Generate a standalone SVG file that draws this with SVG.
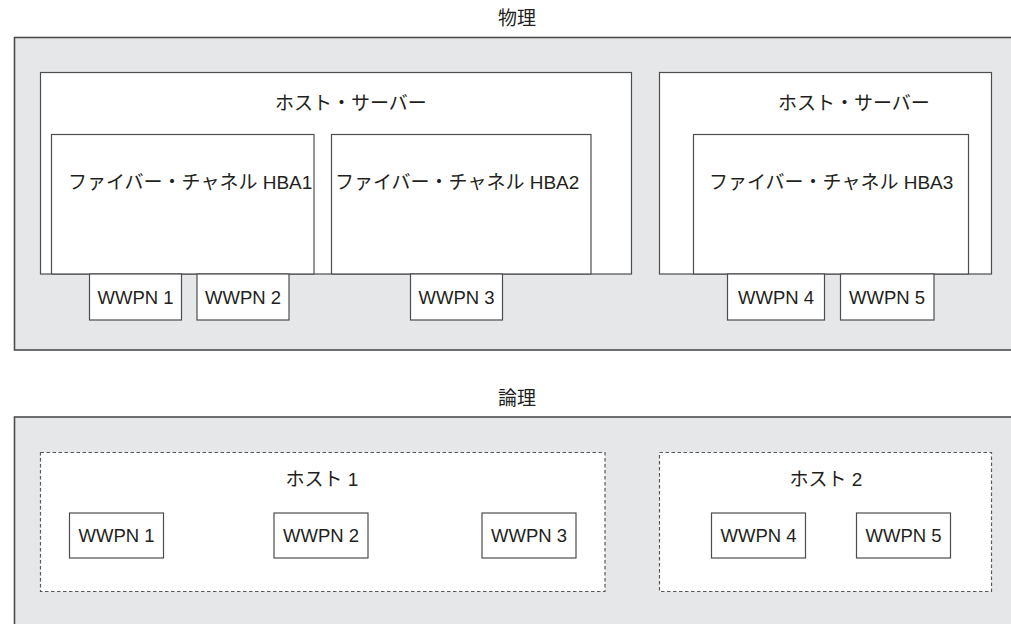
<svg xmlns="http://www.w3.org/2000/svg" width="1011" height="624" viewBox="0 0 1011 624">
<style>
  text { font-family: "Liberation Sans", "Noto Sans CJK JP", sans-serif; fill: #231f20; }
  .cjk { font-size: 19px; }
  .wl { font-size: 18.5px; text-anchor: middle; }
  .ttl { font-size: 19px; text-anchor: middle; }
  .outer { fill: #e6e7e8; stroke: #4d4d4f; stroke-width: 1.6; }
  .box { fill: #ffffff; stroke: #4d4d4f; stroke-width: 1.2; }
  .dash { fill: #ffffff; stroke: #58595b; stroke-width: 1.2; stroke-dasharray: 3.5 2.5; }
</style>

<g id="physical">
  <text class="ttl" x="517" y="25">物理</text>
  <rect class="outer" x="14.5" y="37.5" width="1010" height="312.5"/>
</g>

<g id="host-server-1">
  <rect class="box" x="40.5" y="72.5" width="591" height="201.5"/>
  <text class="cjk" x="275" y="110">ホスト・サーバー</text>
</g>
<g id="hba1">
  <rect class="box" x="51.5" y="134.5" width="262.5" height="139.5"/>
  <text class="cjk" x="68" y="189">ファイバー・チャネル HBA1</text>
</g>
<g id="hba2">
  <rect class="box" x="331.5" y="134.5" width="259.5" height="139.5"/>
  <text class="cjk" x="335" y="189">ファイバー・チャネル HBA2</text>
</g>
<g id="p-wwpn1">
  <rect class="box" x="89.5" y="274" width="92" height="46"/>
  <text class="wl" x="135.5" y="303.5">WWPN 1</text>
</g>
<g id="p-wwpn2">
  <rect class="box" x="197" y="274" width="92" height="46"/>
  <text class="wl" x="243" y="303.5">WWPN 2</text>
</g>
<g id="p-wwpn3">
  <rect class="box" x="410.5" y="274" width="92" height="46"/>
  <text class="wl" x="456.5" y="303.5">WWPN 3</text>
</g>

<g id="host-server-2">
  <rect class="box" x="659.5" y="72.5" width="332" height="201.5"/>
  <text class="cjk" x="778" y="110">ホスト・サーバー</text>
</g>
<g id="hba3">
  <rect class="box" x="693.5" y="134.5" width="275" height="139.5"/>
  <text class="cjk" x="709" y="189">ファイバー・チャネル HBA3</text>
</g>
<g id="p-wwpn4">
  <rect class="box" x="727.5" y="274" width="97" height="46"/>
  <text class="wl" x="776" y="303.5">WWPN 4</text>
</g>
<g id="p-wwpn5">
  <rect class="box" x="840.5" y="274" width="93.5" height="46"/>
  <text class="wl" x="887" y="303.5">WWPN 5</text>
</g>

<g id="logical">
  <text class="ttl" x="517" y="405">論理</text>
  <rect class="outer" x="14.5" y="417" width="1010" height="220"/>
</g>

<g id="host1">
  <rect class="dash" x="40.5" y="452.5" width="564.5" height="139"/>
  <text class="ttl" x="322" y="486">ホスト 1</text>
</g>
<g id="l-wwpn1">
  <rect class="box" x="69.5" y="513" width="94" height="45"/>
  <text class="wl" x="116.5" y="542">WWPN 1</text>
</g>
<g id="l-wwpn2">
  <rect class="box" x="274" y="513" width="94" height="45"/>
  <text class="wl" x="321" y="542">WWPN 2</text>
</g>
<g id="l-wwpn3">
  <rect class="box" x="482" y="513" width="94" height="45"/>
  <text class="wl" x="529" y="542">WWPN 3</text>
</g>

<g id="host2">
  <rect class="dash" x="659.5" y="452.5" width="332" height="139"/>
  <text class="ttl" x="826" y="486">ホスト 2</text>
</g>
<g id="l-wwpn4">
  <rect class="box" x="711.5" y="513" width="94" height="45"/>
  <text class="wl" x="758.5" y="542">WWPN 4</text>
</g>
<g id="l-wwpn5">
  <rect class="box" x="856.5" y="513" width="94" height="45"/>
  <text class="wl" x="903.5" y="542">WWPN 5</text>
</g>

<g id="connectors"></g>
</svg>
